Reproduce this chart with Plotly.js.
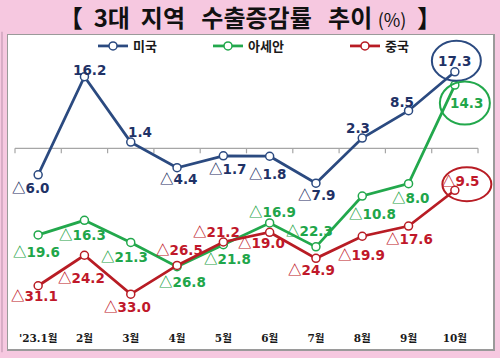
<!DOCTYPE html>
<html><head><meta charset="utf-8">
<script src="https://cdn.plot.ly/plotly-3.0.1.min.js"></script>
<style>html,body{margin:0;padding:0;background:#f6c8e0;}</style>
</head><body><div id="chart" style="width:500px;height:358px;"></div>
<script>
// ---- data ----
const months = ["'23.1월","2월","3월","4월","5월","6월","7월","8월","9월","10월"];
const seriesNames = ["미국","아세안","중국"];
const usa   = [-6.0, 16.2, 1.4, -4.4, -1.7, -1.8, -7.9, 2.3, 8.5, 17.3];
const asean = [-19.6, -16.3, -21.3, -26.8, -21.8, -16.9, -22.3, -10.8, -8.0, 14.3];
const china = [-31.1, -24.2, -33.0, -26.5, -21.2, -19.0, -24.9, -19.9, -17.6, -9.5];

// ---- styles ----
const lineColors = ["#2b4a80", "#22a84c", "#b81c24"];
const textColors = ["#1f3266", "#1fa64a", "#c0182a"];
// label offsets [dx, dy(px, down positive)]
const offUSA   = [[-8,12],[5,-7],[9,-10],[1,10],[4,12],[-2,17],[1,11],[-4,-10],[-7,-9],[0,-11]];
const offASEAN = [[-2,16],[-2,14],[-6,14],[5,14],[4,13],[3,-12],[-6,-17],[10,17],[2,13],[12,18]];
const offCHINA = [[-4,9],[-3,22],[-3,12],[2,-16],[-7,-11],[-8,10],[-4,11],[-1,18],[1,12],[6,-10]];

const allSeries = [usa, asean, china];
const allOffs = [offUSA, offASEAN, offCHINA];
const FONT = "'Noto Sans CJK KR', 'Noto Sans', sans-serif";
const NUMFONT = "'DejaVu Sans', 'Noto Sans CJK KR', sans-serif";
const AXFONT = "'DejaVu Serif', 'Noto Sans CJK KR', serif";

function fmt(v){
  return v < 0
    ? "<span style=\"font-family:'Noto Sans CJK KR'\">△</span>" + Math.abs(v).toFixed(1)
    : v.toFixed(1);
}

const legendIds = ["legend", "legend2", "legend3"];
const traces = allSeries.map((ys, i) => ({
  type: "scatter", mode: "lines+markers", name: seriesNames[i],
  x: months, y: ys, legend: legendIds[i],
  line: {color: lineColors[i], width: 2.75},
  marker: {size: 8, color: "#ffffff", line: {color: lineColors[i], width: 1.5}},
  hoverinfo: "skip"
}));

const annotations = [];
allSeries.forEach((ys, i) => {
  ys.forEach((v, j) => {
    annotations.push({
      x: months[j], y: v, xref: "x", yref: "y", showarrow: false,
      text: "<b>" + fmt(v) + "</b>", borderpad: 0,
      xshift: allOffs[i][j][0], yshift: -allOffs[i][j][1],
      font: {family: NUMFONT, size: 13.5, color: textColors[i]}
    });
  });
});

const last = months.length - 1;
const shapes = [];
shapes.push({type: "line", xref: "x", yref: "y", x0: -0.5, x1: last + 0.5, y0: 0, y1: 0,
  line: {color: "#a6a6a6", width: 1.2}, layer: "below"});
for (let k = 0; k <= months.length; k++) {
  shapes.push({type: "line", xref: "x", yref: "y", ysizemode: "pixel", yanchor: 0,
    x0: k - 0.5, x1: k - 0.5, y0: 0, y1: -5, line: {color: "#a6a6a6", width: 1.2}, layer: "below"});
}
const circ = [[-23, 26, -9, 31], [-15, 35, -39.5, 3.5], [-12.5, 36.5, -11, 23]];
allSeries.forEach((ys, i) => {
  shapes.push({type: "circle", xref: "x", yref: "y", xsizemode: "pixel", ysizemode: "pixel",
    xanchor: last, yanchor: ys[last],
    x0: circ[i][0], x1: circ[i][1], y0: circ[i][2], y1: circ[i][3],
    line: {color: lineColors[i], width: 2}});
});
shapes.push({type: "line", xref: "paper", yref: "paper", x0: -0.0124, x1: -0.0124, y0: -0.01, y1: 1.01,
  line: {color: "#c49ab4", width: 1.2}});

const legendX = [0.1753, 0.4124, 0.6948];
const legendBase = (x) => ({
  orientation: "h", x: x, xanchor: "left", y: 0.965, yanchor: "middle",
  bgcolor: "rgba(0,0,0,0)", font: {family: FONT, size: 13, color: "#1a1a1a", weight: "bold"},
  itemclick: false
});

const pxPerUnitX = 46.33;
const NB = "\u00A0";
const layout = {
  width: 500, height: 358,
  paper_bgcolor: "#f6c8e0", plot_bgcolor: "#ffffff",
  margin: {l: 8, r: 7, t: 35, b: 9, autoexpand: false},
  title: {
    text: "<b>【" + NB + NB + "3대" + NB + NB + "지역" + NB + NB + NB + "수출증감률" + NB + NB + NB + "추이</b>" + NB +
          "<span style='font-size:18px'>(%)</span>" + NB + NB + "<b>】</b>",
    x: 0.5, xref: "container", y: 0.947, yanchor: "middle",
    font: {family: FONT, size: 24, color: "#111111"}
  },
  showlegend: true,
  legend: legendBase(legendX[0]),
  legend2: legendBase(legendX[1]),
  legend3: legendBase(legendX[2]),
  xaxis: {
    type: "category", range: [-0.5 - 7/pxPerUnitX, last + 0.5 + 15/pxPerUnitX],
    showgrid: false, zeroline: false,
    showline: true, mirror: true, linecolor: "#9a9a9a", linewidth: 1.5,
    ticks: "", ticklabelposition: "inside", ticklabelstandoff: 4,
    tickfont: {family: AXFONT, size: 10.5, color: "#1a1a1a", weight: "bold"},
    fixedrange: true
  },
  yaxis: {
    range: [-45.41, 25.63], showgrid: false, zeroline: false,
    showticklabels: false, ticks: "",
    showline: true, mirror: true, linecolor: "#9a9a9a", linewidth: 1.5,
    fixedrange: true
  },
  annotations: annotations,
  shapes: shapes
};

Plotly.newPlot("chart", traces, layout, {displayModeBar: false, staticPlot: true});
</script></body></html>
